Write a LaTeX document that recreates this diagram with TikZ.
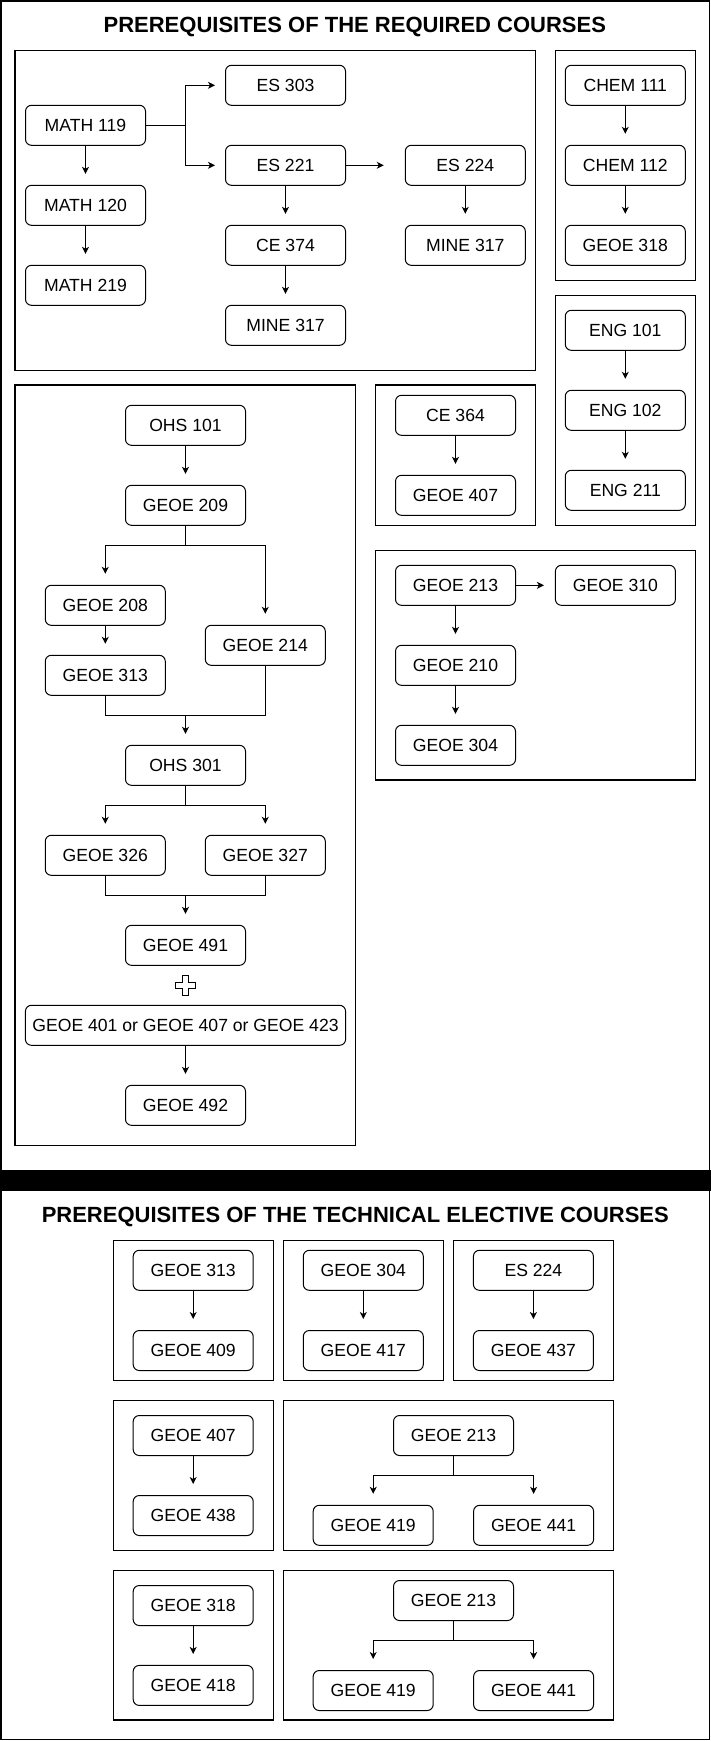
\documentclass[tikz,border=0pt]{standalone}
\usepackage{fontspec}
\setmainfont{Liberation Sans}
\usetikzlibrary{arrows.meta}
\begin{document}
\begin{tikzpicture}[x=1pt,y=-1pt,
  course/.style={draw, line width=1pt, rounded corners=6pt, minimum width=120pt, minimum height=40pt, inner sep=0pt, font=\fontsize{17.6}{21}\selectfont},
  group/.style={draw, line width=1.3pt},
  conn/.style={line width=1pt},
  arr/.style={line width=1pt, -{Stealth[length=7pt,width=7pt,inset=2pt]}, shorten >=11pt},
  ttl/.style={font=\fontsize{22}{26}\selectfont\bfseries, inner sep=0pt}]
\useasboundingbox (0,0) rectangle (711,1741);
\fill[white] (0,0) rectangle (711,1741);
\draw[line width=1.5pt] (0.75,0.75) rectangle (709.6,1739.6);
\fill[black] (0,1170) rectangle (711,1190.7);

% titles
\node[ttl] (t1) at (354.8,26.7) {PREREQUISITES OF THE REQUIRED COURSES};
\node[ttl] (t2) at (355.3,1216.9) {PREREQUISITES OF THE TECHNICAL ELECTIVE COURSES};

% ---------- group frames (required) ----------
\draw[group] (15,50.3) rectangle (535.6,370.3);
\draw[group] (555.5,50.3) rectangle (695.6,280.3);
\draw[group] (555.5,295.3) rectangle (695.6,525.3);
\draw[group] (375.5,385) rectangle (535.6,525.3);
\draw[group] (375.5,550.7) rectangle (695.6,780);
\draw[group] (15,385) rectangle (355.5,1145.3);

% ---------- math group ----------
\node[course] (math119) at (85.5,125.3) {MATH 119};
\node[course] (math120) at (85.5,205.3) {MATH 120};
\node[course] (math219) at (85.5,285.3) {MATH 219};
\node[course] (es303) at (285.5,85.3) {ES 303};
\node[course] (es221) at (285.5,165.3) {ES 221};
\node[course] (ce374) at (285.5,245.3) {CE 374};
\node[course] (mine317a) at (285.5,325.3) {MINE 317};
\node[course] (es224) at (465.3,165.3) {ES 224};
\node[course] (mine317b) at (465.3,245.3) {MINE 317};
\coordinate (j1) at (185,125.3);
\draw[conn] (math119.east) -- (j1);
\draw[arr, shorten >=10pt] (j1) |- (es303.west);
\draw[arr, shorten >=10pt] (j1) |- (es221.west);
\draw[arr, shorten >=21pt] (es221) -- (es224);
\draw[arr] (math119) -- (math120);
\draw[arr] (math120) -- (math219);
\draw[arr] (es221) -- (ce374);
\draw[arr] (ce374) -- (mine317a);
\draw[arr] (es224) -- (mine317b);

% ---------- chem ----------
\node[course] (chem111) at (625.3,85.3) {CHEM 111};
\node[course] (chem112) at (625.3,165.3) {CHEM 112};
\node[course] (geoe318) at (625.3,245.3) {GEOE 318};
\draw[arr] (chem111) -- (chem112);
\draw[arr] (chem112) -- (geoe318);

% ---------- eng ----------
\node[course] (eng101) at (625.3,330.3) {ENG 101};
\node[course] (eng102) at (625.3,410.3) {ENG 102};
\node[course] (eng211) at (625.3,490.3) {ENG 211};
\draw[arr] (eng101) -- (eng102);
\draw[arr] (eng102) -- (eng211);

% ---------- ce 364 ----------
\node[course] (ce364) at (455.5,415.3) {CE 364};
\node[course] (geoe407) at (455.5,495.3) {GEOE 407};
\draw[arr] (ce364) -- (geoe407);

% ---------- geoe 213 ----------
\node[course] (geoe213) at (455.5,585.3) {GEOE 213};
\node[course] (geoe310) at (615.4,585.3) {GEOE 310};
\node[course] (geoe210) at (455.5,665.3) {GEOE 210};
\node[course] (geoe304) at (455.5,745.3) {GEOE 304};
\draw[arr] (geoe213) -- (geoe310);
\draw[arr] (geoe213) -- (geoe210);
\draw[arr] (geoe210) -- (geoe304);

% ---------- main chain ----------
\node[course] (ohs101) at (185.5,425.3) {OHS 101};
\node[course] (geoe209) at (185.5,505.3) {GEOE 209};
\node[course] (geoe208) at (105.3,605.3) {GEOE 208};
\node[course] (geoe214) at (265.3,645.3) {GEOE 214};
\node[course] (geoe313) at (105.3,675.3) {GEOE 313};
\node[course] (ohs301) at (185.5,765.3) {OHS 301};
\node[course] (geoe326) at (105.3,855.3) {GEOE 326};
\node[course] (geoe327) at (265.3,855.3) {GEOE 327};
\node[course] (geoe491) at (185.5,945.3) {GEOE 491};
\node[course, minimum width=320.2pt] (geoeor) at (185.5,1025.3) {GEOE 401 or GEOE 407 or GEOE 423};
\node[course] (geoe492) at (185.5,1105.3) {GEOE 492};
\draw[arr] (ohs101) -- (geoe209);
\coordinate (s1) at (185.5,545.3);
\draw[conn] (geoe209.south) -- (s1);
\draw[arr] (s1) -| (geoe208.north);
\draw[arr] (s1) -| (geoe214.north);
\draw[arr] (geoe208) -- (geoe313);
\coordinate (m1) at (185.5,715);
\draw[conn] (geoe313.south) |- (m1);
\draw[conn] (geoe214.south) |- (m1);
\draw[arr] (m1) -- (ohs301.north);
\coordinate (s2) at (185.5,805.3);
\draw[conn] (ohs301.south) -- (s2);
\draw[arr] (s2) -| (geoe326.north);
\draw[arr] (s2) -| (geoe327.north);
\coordinate (m2) at (185.5,895.3);
\draw[conn] (geoe326.south) |- (m2);
\draw[conn] (geoe327.south) |- (m2);
\draw[arr] (m2) -- (geoe491.north);
% plus sign
\draw[line width=1pt, line join=miter, fill=white]
  (182.5,975) -- (188.5,975) -- (188.5,982) -- (195.5,982) -- (195.5,988) -- (188.5,988)
  -- (188.5,995) -- (182.5,995) -- (182.5,988) -- (175.5,988) -- (175.5,982) -- (182.5,982) -- cycle;
\draw[arr] (geoeor) -- (geoe492);

% ---------- technical electives ----------
\draw[group] (113.4,1240.5) rectangle (273.5,1380.4);
\draw[group] (283.4,1240.5) rectangle (443.5,1380.4);
\draw[group] (453.5,1240.5) rectangle (613.6,1380.4);
\draw[group] (113.4,1400.4) rectangle (273.5,1550.3);
\draw[group] (283.4,1400.4) rectangle (613.6,1550.3);
\draw[group] (113.4,1570.3) rectangle (273.5,1719.9);
\draw[group] (283.4,1570.3) rectangle (613.6,1719.9);

\node[course] (te313) at (193.2,1270.3) {GEOE 313};
\node[course] (te409) at (193.2,1350.5) {GEOE 409};
\node[course] (te304) at (363.3,1270.3) {GEOE 304};
\node[course] (te417) at (363.3,1350.5) {GEOE 417};
\node[course] (tees224) at (533.4,1270.3) {ES 224};
\node[course] (te437) at (533.4,1350.5) {GEOE 437};
\draw[arr] (te313) -- (te409);
\draw[arr] (te304) -- (te417);
\draw[arr] (tees224) -- (te437);

\node[course] (te407) at (193.2,1435.5) {GEOE 407};
\node[course] (te438) at (193.2,1515.5) {GEOE 438};
\draw[arr] (te407) -- (te438);
\node[course] (te213a) at (453.5,1435.5) {GEOE 213};
\node[course] (te419a) at (373.2,1525.3) {GEOE 419};
\node[course] (te441a) at (533.6,1525.3) {GEOE 441};
\coordinate (s3) at (453.5,1475.5);
\draw[conn] (te213a.south) -- (s3);
\draw[arr] (s3) -| (te419a.north);
\draw[arr] (s3) -| (te441a.north);

\node[course] (te318) at (193.2,1605.5) {GEOE 318};
\node[course] (te418) at (193.2,1685.4) {GEOE 418};
\draw[arr] (te318) -- (te418);
\node[course] (te213b) at (453.5,1600.5) {GEOE 213};
\node[course] (te419b) at (373.2,1690.5) {GEOE 419};
\node[course] (te441b) at (533.6,1690.5) {GEOE 441};
\coordinate (s4) at (453.5,1640.1);
\draw[conn] (te213b.south) -- (s4);
\draw[arr] (s4) -| (te419b.north);
\draw[arr] (s4) -| (te441b.north);
\end{tikzpicture}
\end{document}
